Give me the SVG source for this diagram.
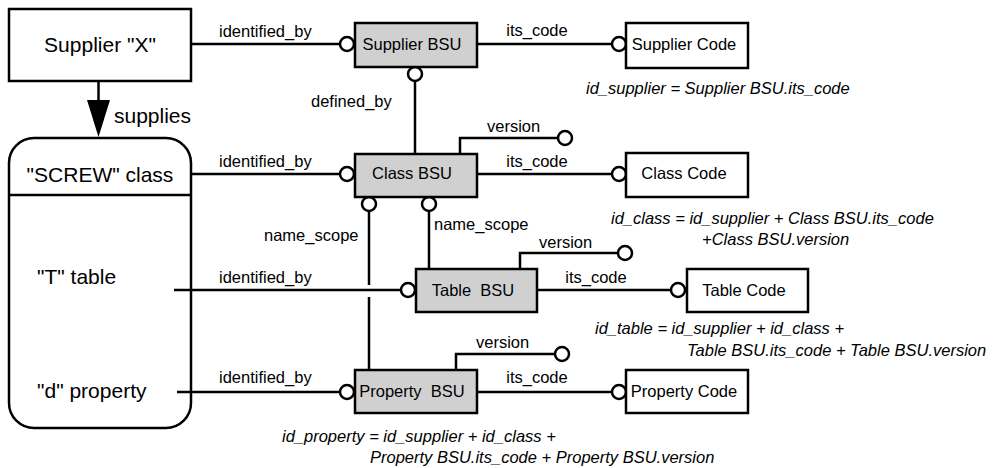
<svg xmlns="http://www.w3.org/2000/svg" width="995" height="468" viewBox="0 0 995 468">
<style>
text{font-family:"Liberation Sans",Arial,sans-serif;font-size:16.5px;fill:#000;white-space:pre}
.big{font-size:21px}
.it{font-style:italic}
.m{text-anchor:middle}
.box{fill:#fff;stroke:#000;stroke-width:2.5}
.bsu{fill:#d0d0d0;stroke:#000;stroke-width:2.5}
.ln{fill:none;stroke:#000;stroke-width:2.5}
.c{fill:#fff;stroke:#000;stroke-width:2.5}
</style>
<rect width="995" height="468" fill="#fff"/>
<g id="connectors">
  <line class="ln" x1="98.5" y1="81" x2="98.5" y2="101"/>
  <polygon points="87,100 110,100 98.5,137" fill="#000"/>
  <line class="ln" x1="191" y1="44" x2="340" y2="44"/>
  <line class="ln" x1="191" y1="174" x2="340" y2="174"/>
  <line class="ln" x1="174" y1="290" x2="401" y2="290"/>
  <line class="ln" x1="177" y1="392" x2="340" y2="392"/>
  <line class="ln" x1="477" y1="44" x2="612" y2="44"/>
  <line class="ln" x1="477" y1="174" x2="612" y2="174"/>
  <line class="ln" x1="537" y1="290" x2="671" y2="290"/>
  <line class="ln" x1="477" y1="392" x2="612" y2="392"/>
  <line class="ln" x1="415" y1="81" x2="415" y2="154"/>
  <polyline class="ln" points="460,154 460,138 558,138"/>
  <polyline class="ln" points="520,269 520,253 618,253"/>
  <polyline class="ln" points="456,370 456,354 555,354"/>
  <line class="ln" x1="369" y1="211" x2="369" y2="285"/>
  <line class="ln" x1="369" y1="297" x2="369" y2="370"/>
  <line class="ln" x1="429" y1="211" x2="429" y2="269"/>
  <circle class="c" cx="347" cy="44" r="7"/>
  <circle class="c" cx="415" cy="74" r="7"/>
  <circle class="c" cx="619" cy="44" r="7"/>
  <circle class="c" cx="347" cy="174" r="7"/>
  <circle class="c" cx="565" cy="138" r="7"/>
  <circle class="c" cx="619" cy="174" r="7"/>
  <circle class="c" cx="369" cy="204" r="7"/>
  <circle class="c" cx="429" cy="204" r="7"/>
  <circle class="c" cx="408" cy="290" r="7"/>
  <circle class="c" cx="625" cy="253" r="7"/>
  <circle class="c" cx="678" cy="290" r="7"/>
  <circle class="c" cx="347" cy="392" r="7"/>
  <circle class="c" cx="562" cy="354" r="7"/>
  <circle class="c" cx="619" cy="392" r="7"/>
  <text x="219" y="37">identified_by</text>
  <text x="219" y="167">identified_by</text>
  <text x="219" y="283">identified_by</text>
  <text x="219" y="383">identified_by</text>
  <text x="114" y="123" class="big">supplies</text>
  <text x="311" y="107">defined_by</text>
  <text x="264" y="241">name_scope</text>
  <text x="434" y="230">name_scope</text>
  <text x="537" y="36" class="m">its_code</text>
  <text x="537" y="167" class="m">its_code</text>
  <text x="596" y="283" class="m">its_code</text>
  <text x="537" y="383" class="m">its_code</text>
  <text x="487" y="132">version</text>
  <text x="539" y="248">version</text>
  <text x="476" y="348">version</text>
</g>
<g id="supplier-x">
  <rect class="box" x="9" y="9" width="182" height="72"/>
  <text x="100" y="52" class="big m">Supplier "X"</text>
</g>
<g id="screw-class">
  <rect class="box" x="9" y="138" width="182" height="290" rx="25" fill="none" style="fill:none"/>
  <line class="ln" x1="9" y1="195" x2="191" y2="195"/>
  <text x="100" y="182" class="big m">"SCREW" class</text>
  <text x="37" y="284" class="big">"T" table</text>
  <text x="37" y="398" class="big">"d" property</text>
</g>
<g id="supplier-bsu">
  <rect class="bsu" x="355" y="23" width="122" height="44"/>
  <text x="412" y="50" class="m">Supplier BSU</text>
</g>
<g id="class-bsu">
  <rect class="bsu" x="355" y="154" width="122" height="43"/>
  <text x="412" y="179" class="m">Class BSU</text>
</g>
<g id="table-bsu">
  <rect class="bsu" x="416" y="269" width="121" height="43"/>
  <text x="473" y="296" class="m">Table  BSU</text>
</g>
<g id="property-bsu">
  <rect class="bsu" x="355" y="370" width="122" height="43"/>
  <text x="412" y="397" class="m">Property  BSU</text>
</g>
<g id="supplier-code">
  <rect class="box" x="626" y="23" width="122" height="45"/>
  <text x="684" y="50" class="m">Supplier Code</text>
  <text x="586" y="94" class="it">id_supplier = Supplier BSU.its_code</text>
</g>
<g id="class-code">
  <rect class="box" x="626" y="153" width="122" height="44"/>
  <text x="684" y="179" class="m">Class Code</text>
  <text x="611" y="224" class="it">id_class = id_supplier + Class BSU.its_code</text>
  <text x="702" y="245" class="it">+Class BSU.version</text>
</g>
<g id="table-code">
  <rect class="box" x="687" y="269" width="121" height="43"/>
  <text x="744" y="296" class="m">Table Code</text>
  <text x="595" y="334" class="it">id_table = id_supplier + id_class +</text>
  <text x="687" y="356" class="it">Table BSU.its_code + Table BSU.version</text>
</g>
<g id="property-code">
  <rect class="box" x="626" y="370" width="122" height="43"/>
  <text x="684" y="397" class="m">Property Code</text>
  <text x="282" y="442" class="it">id_property = id_supplier + id_class +</text>
  <text x="370" y="463" class="it">Property BSU.its_code + Property BSU.version</text>
</g>
</svg>
